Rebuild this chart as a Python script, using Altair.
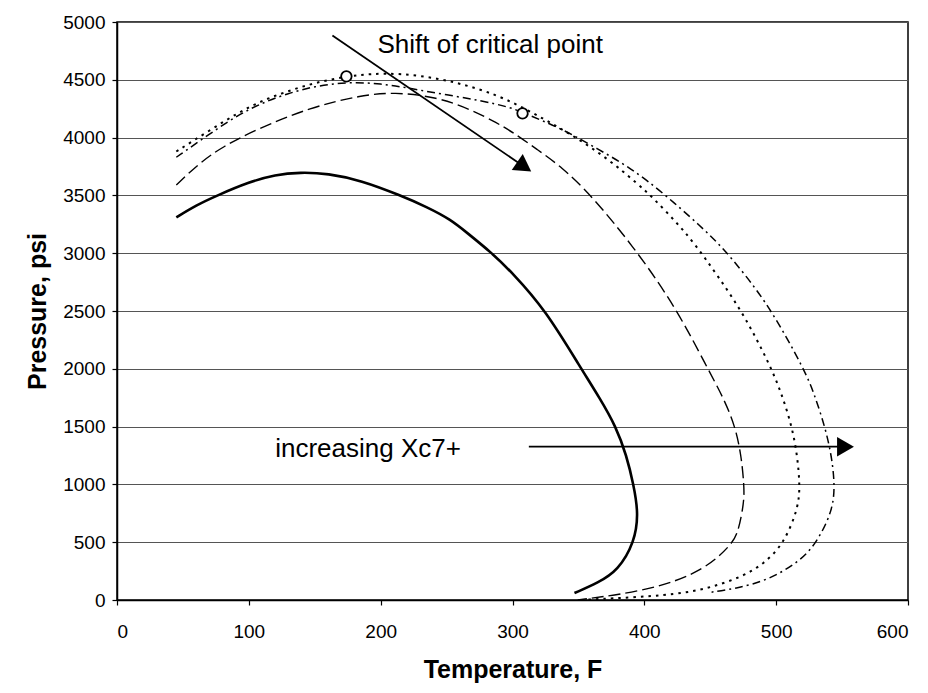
import altair as alt
import pandas as pd

# ---- data (Temperature F, Pressure psi) ----
c1_T = [45, 60, 76, 100, 120, 139, 160, 185, 215, 235, 253, 266, 283.5, 300, 325, 352, 366, 378.5, 386.5, 391.8, 395.6, 392.6, 380, 365, 347]
c1_P = [3310, 3415, 3500, 3615, 3680, 3700, 3690, 3630, 3500, 3400, 3292, 3172, 3010, 2830, 2509, 2002, 1750, 1500, 1250, 1000, 750, 500, 255, 150, 60]

c2_T = [45, 63, 80, 106, 147, 185, 210, 243, 268, 288.6, 301, 319, 336.8, 360, 395, 425, 448, 460, 469, 473.5, 475.6, 475.8, 471, 466, 445.7, 405, 349.5]
c2_P = [3590, 3785, 3920, 4073, 4263, 4365, 4395, 4350, 4245, 4125, 4040, 3895, 3750, 3500, 3010, 2509, 2002, 1750, 1500, 1250, 1000, 850, 575, 480, 256, 83, 0]

c3_T = [45, 70, 91, 110, 129, 150, 174, 192, 215, 243, 268, 294, 324, 347, 372, 395, 407, 424, 437, 456, 476, 495, 504, 512, 516, 518, 517, 506, 491, 474, 451, 431, 398, 355]
c3_P = [3880, 4060, 4210, 4320, 4400, 4475, 4530, 4552, 4555, 4515, 4445, 4345, 4160, 4010, 3820, 3600, 3475, 3270, 3100, 2800, 2460, 2040, 1790, 1500, 1250, 1000, 800, 490, 315, 200, 110, 60, 25, 3]

c4_T = [45, 70, 91, 110, 129, 150, 174, 200, 225, 250, 276, 299, 308, 337, 365, 390, 415, 443, 458, 476, 496, 522, 529, 537, 542, 544.5, 543, 532, 519.5, 494, 468.5, 451]
c4_P = [3830, 4030, 4190, 4300, 4380, 4445, 4480, 4470, 4420, 4370, 4320, 4260, 4215, 4080, 3900, 3735, 3515, 3230, 3065, 2822, 2517, 1981, 1778, 1500, 1250, 1000, 780, 520, 345, 170, 97, 68]

crit_T = [174, 307.6]
crit_P = [4530, 4210]

# annotations (data coordinates)
ann_text = ["Shift of critical point", "increasing Xc7+"]
ann_T = [197.6, 120]
ann_P = [4800, 1309]

arrow_T = [163.4, 312.4]
arrow_P = [4883, 1326]
arrow_T2 = [308.9, 552.6]
arrow_P2 = [3748, 1326]
arrow_angle = [34.3, 0]


def curve_df(T, P):
    return pd.DataFrame({"T": T, "P": P, "i": list(range(len(T)))})


xs = alt.Scale(domain=[0, 600], nice=False)
ys = alt.Scale(domain=[0, 5000], nice=False)

x_axis = alt.Axis(values=list(range(0, 601, 100)), title="Temperature, F", grid=False, format="d")
y_axis = alt.Axis(values=list(range(0, 5001, 500)), title="Pressure, psi", grid=True, format="d")


def line_layer(T, P, dash, width):
    kw = dict(color="black", strokeWidth=width, interpolate="basis")
    if dash:
        kw["strokeDash"] = dash
    return alt.Chart(curve_df(T, P)).mark_line(**kw).encode(
        x=alt.X("T:Q", scale=xs, axis=x_axis),
        y=alt.Y("P:Q", scale=ys, axis=y_axis),
        order=alt.Order("i:Q"),
    )


l1 = line_layer(c1_T, c1_P, None, 2.6)
l2 = line_layer(c2_T, c2_P, [12, 5], 1.4)
l3 = line_layer(c3_T, c3_P, [2.5, 5], 2.0)
l4 = line_layer(c4_T, c4_P, [8, 4, 2, 4], 1.5)

crit = alt.Chart(pd.DataFrame({"T": crit_T, "P": crit_P})).mark_point(
    shape="circle", filled=True, fill="white", stroke="black", strokeWidth=1.8, size=110, opacity=1
).encode(x=alt.X("T:Q", scale=xs), y=alt.Y("P:Q", scale=ys))

arr_df = pd.DataFrame({"T": arrow_T, "P": arrow_P, "T2": arrow_T2, "P2": arrow_P2, "ang": arrow_angle})
arr_lines = alt.Chart(arr_df).mark_rule(color="black", strokeWidth=1.8).encode(
    x=alt.X("T:Q", scale=xs), y=alt.Y("P:Q", scale=ys), x2="T2:Q", y2="P2:Q"
)
arr_heads = alt.Chart(arr_df).mark_point(
    shape="triangle-right", filled=True, color="black", size=380, opacity=1
).encode(
    x=alt.X("T2:Q", scale=xs), y=alt.Y("P2:Q", scale=ys), angle=alt.Angle("ang:Q", scale=None)
)

ann = alt.Chart(pd.DataFrame({"T": ann_T, "P": ann_P, "txt": ann_text})).mark_text(
    align="left", baseline="middle", fontSize=26, font="Liberation Sans", color="black"
).encode(x=alt.X("T:Q", scale=xs), y=alt.Y("P:Q", scale=ys), text="txt:N")

chart = alt.layer(l1, l2, l3, l4, arr_lines, arr_heads, crit, ann).properties(
    width=791,
    height=578,
    padding={"left": 117, "top": 22, "right": 20, "bottom": 93},
    autosize=alt.AutoSizeParams(type="none"),
    background="white",
).configure_view(
    stroke="black", strokeWidth=1.5
).configure_axis(
    labelFont="Liberation Sans",
    labelFontSize=19,
    labelColor="black",
    titleFont="Liberation Sans",
    titleFontSize=25,
    titleFontWeight="bold",
    titleColor="black",
    domainColor="black",
    domainWidth=1.5,
    tickColor="black",
    tickSize=5,
    tickWidth=1.2,
    gridColor="#555555",
    gridWidth=1,
).configure_axisX(
    labelPadding=17, titlePadding=16
).configure_axisY(
    labelPadding=7, titlePadding=12
)

chart.save("out.html", embed_options={"renderer": "svg", "actions": False})
